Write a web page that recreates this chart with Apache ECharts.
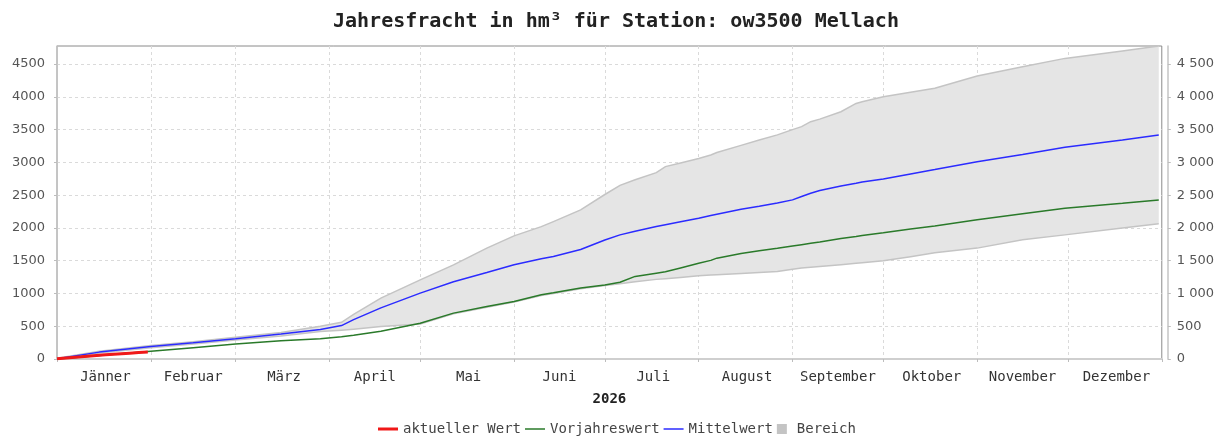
<!DOCTYPE html>
<html>
<head>
<meta charset="utf-8">
<script src="https://cdn.jsdelivr.net/npm/echarts@6/dist/echarts.min.js"></script>
<style>
  html, body { margin: 0; padding: 0; background: #fff; }
  #chart { width: 1217px; height: 439px; }
</style>
</head>
<body>
<div id="chart"></div>
<script>
// Monatsachse 2026
const monthLabels = ['Jänner', 'Februar', 'März', 'April', 'Mai', 'Juni', 'Juli',
  'August', 'September', 'Oktober', 'November', 'Dezember'];
const monthLengths = [31, 28, 31, 30, 31, 30, 31, 31, 30, 31, 30, 31];

// Werteachse (hm³)
const yTickValues = [0, 500, 1000, 1500, 2000, 2500, 3000, 3500, 4000, 4500];
const yMax = 4776;

// Tag im Jahr (0 = 1. Jänner) für die Stützstellen der Kurven
const days = [0, 14, 31, 45, 59, 74, 87, 94, 98, 107, 120, 131, 142, 151, 160, 164, 173,
  181, 186, 191, 198, 201, 206, 212, 216, 218, 226, 232, 238, 243, 246, 249, 252, 259,
  264, 266, 273, 282, 290, 304, 319, 333, 352, 364];

const mittelwert = [5, 105, 190, 248, 310, 380, 450, 510, 600, 780, 1005, 1180, 1320, 1437,
  1530, 1564, 1670, 1815, 1894, 1950, 2021, 2050, 2095, 2149, 2190, 2210, 2286, 2330,
  2380, 2428, 2480, 2530, 2570, 2640, 2682, 2700, 2745, 2824, 2890, 3011, 3120, 3231,
  3340, 3418];

const vorjahreswert = [0, 52, 118, 172, 228, 280, 310, 340, 362, 425, 545, 700, 800, 878,
  980, 1010, 1082, 1130, 1170, 1260, 1310, 1330, 1390, 1460, 1505, 1539, 1610, 1650,
  1690, 1725, 1745, 1765, 1785, 1840, 1870, 1885, 1925, 1982, 2030, 2123, 2215, 2301,
  2375, 2428];

const bereichMin = [0, 92, 172, 228, 290, 352, 420, 440, 455, 495, 535, 690, 790, 868,
  970, 1000, 1072, 1122, 1150, 1180, 1215, 1225, 1245, 1269, 1280, 1285, 1305, 1320,
  1335, 1370, 1388, 1400, 1410, 1437, 1460, 1470, 1500, 1560, 1620, 1692, 1818, 1894,
  2000, 2062];

const bereichMax = [10, 118, 205, 265, 332, 405, 500, 560, 680, 930, 1208, 1437, 1692,
  1879, 2020, 2097, 2275, 2510, 2650, 2735, 2844, 2936, 2990, 3060, 3114, 3150, 3260,
  3342, 3420, 3500, 3545, 3621, 3660, 3773, 3900, 3926, 4000, 4070, 4130, 4317, 4460,
  4587, 4700, 4775];

// Aktuelles Jahr (bisher nur Jänner)
const aktuellDays = [0, 4, 8, 12, 16, 20, 24, 27, 30];
const aktuellerWert = [2, 18, 33, 49, 64, 77, 89, 98, 106];

// ---- Achsen-Hilfsgrößen ----
const monthStarts = [0];
monthLengths.forEach((len, i) => monthStarts.push(monthStarts[i] + len));
const totalDays = monthStarts[monthStarts.length - 1];
const dayCategories = Array.from({ length: totalDays + 1 }, (_, i) => String(i));
const startSet = new Set(monthStarts);
const midLabel = {};
monthLabels.forEach((m, i) => {
  midLabel[Math.round((monthStarts[i] + monthStarts[i + 1]) / 2)] = m;
});

const pairs = (xs, ys) => xs.map((x, i) => [x, ys[i]]);

const fmtSpace = v => v >= 1000
  ? Math.floor(v / 1000) + ' ' + String(v % 1000).padStart(3, '0')
  : String(v);

const mono = 'DejaVu Sans Mono';
const sans = 'DejaVu Sans';
const gridLine = { show: true, lineStyle: { color: '#dadada', type: [3, 3], width: 1 } };
const bandFill = '#e5e5e5';
const bandEdge = '#c4c4c4';

// Bereich (Min..Max) als geschlossene Fläche mit Randlinien
function renderBand(params, api) {
  const upper = days.map((d, i) => api.coord([d, bereichMax[i]]));
  const lower = days.map((d, i) => api.coord([d, bereichMin[i]]));
  const poly = upper.concat(lower.slice().reverse());
  return {
    type: 'group',
    children: [
      { type: 'polygon', shape: { points: poly }, style: { fill: bandFill, stroke: null } },
      { type: 'polyline', shape: { points: upper }, style: { stroke: bandEdge, lineWidth: 1.5, fill: null } },
      { type: 'polyline', shape: { points: lower }, style: { stroke: bandEdge, lineWidth: 1.5, fill: null } }
    ]
  };
}

const lineIcon = h => 'path://M0,0 L20,0 L20,' + h + ' L0,' + h + ' Z';

const chart = echarts.init(document.getElementById('chart'), null, { renderer: 'canvas' });
chart.setOption({
  animation: false,
  backgroundColor: '#ffffff',
  title: {
    text: 'Jahresfracht in hm³ für Station: ow3500 Mellach',
    left: 328,
    top: 7,
    textStyle: { fontFamily: mono, fontWeight: 'bold', fontSize: 20, color: '#222' }
  },
  legend: {
    left: 378,
    top: 422,
    padding: 0,
    itemGap: 4,
    itemWidth: 20,
    itemHeight: 10,
    textStyle: { fontFamily: mono, fontSize: 14, color: '#444' },
    data: [
      { name: 'aktueller Wert', icon: lineIcon(3), itemStyle: { color: '#f01818' } },
      { name: 'Vorjahreswert', icon: lineIcon(1.5), itemStyle: { color: '#2a7a2a' } },
      { name: 'Mittelwert', icon: lineIcon(1.5), itemStyle: { color: '#2b2bff' } },
      { name: 'Bereich', icon: 'path://M0,0 L10,0 L10,10 L0,10 Z', itemStyle: { color: '#c4c4c4' } }
    ]
  },
  grid: {
    left: 57, right: 54, top: 46, bottom: 80,
    show: true, borderColor: '#8a8a8a', borderWidth: 1, backgroundColor: '#ffffff'
  },
  xAxis: [
    { type: 'value', min: 0, max: totalDays, show: false },
    {
      type: 'category',
      data: dayCategories,
      boundaryGap: false,
      position: 'bottom',
      offset: 3,
      name: '2026',
      nameLocation: 'middle',
      nameGap: 30,
      nameTextStyle: { fontFamily: mono, fontWeight: 'bold', fontSize: 14, color: '#222' },
      axisLine: { show: true, lineStyle: { color: '#cfcfcf', width: 2 } },
      axisTick: {
        show: true, length: 3, lineStyle: { color: '#bdbdbd' },
        interval: idx => startSet.has(idx)
      },
      axisLabel: {
        interval: idx => midLabel[idx] !== undefined,
        formatter: (val, idx) => midLabel[idx] || '',
        margin: 8,
        fontFamily: mono, fontSize: 14, color: '#333'
      },
      splitLine: Object.assign({}, gridLine, {
        interval: idx => startSet.has(idx) && idx !== 0 && idx !== totalDays
      })
    }
  ],
  yAxis: [
    {
      type: 'value', min: 0, max: yMax, interval: 500, position: 'left', offset: 4,
      axisLine: { show: true, lineStyle: { color: '#c4c4c4', width: 1.5 } },
      axisTick: { show: true, length: 3, lineStyle: { color: '#bdbdbd' }, customValues: yTickValues },
      axisLabel: {
        customValues: yTickValues, margin: 8, formatter: v => String(v),
        fontFamily: sans, fontSize: 13, color: '#555'
      },
      splitLine: gridLine
    },
    {
      type: 'value', min: 0, max: yMax, interval: 500, position: 'right', offset: 6,
      axisLine: { show: true, lineStyle: { color: '#c4c4c4', width: 1.5 } },
      axisTick: { show: true, length: 3, lineStyle: { color: '#bdbdbd' }, customValues: yTickValues },
      axisLabel: {
        customValues: yTickValues, margin: 9, formatter: fmtSpace,
        fontFamily: sans, fontSize: 13, color: '#555'
      },
      splitLine: { show: false }
    }
  ],
  series: [
    {
      name: 'Bereich',
      type: 'custom',
      xAxisIndex: 0, yAxisIndex: 0,
      renderItem: renderBand,
      itemStyle: { color: '#c4c4c4' },
      data: [0],
      z: 1
    },
    {
      name: 'Vorjahreswert',
      type: 'line',
      xAxisIndex: 0, yAxisIndex: 0,
      symbol: 'none',
      lineStyle: { color: '#2a7a2a', width: 1.5 },
      itemStyle: { color: '#2a7a2a' },
      data: pairs(days, vorjahreswert),
      z: 3
    },
    {
      name: 'Mittelwert',
      type: 'line',
      xAxisIndex: 0, yAxisIndex: 0,
      symbol: 'none',
      lineStyle: { color: '#2b2bff', width: 1.5 },
      itemStyle: { color: '#2b2bff' },
      data: pairs(days, mittelwert),
      z: 4
    },
    {
      name: 'aktueller Wert',
      type: 'line',
      xAxisIndex: 0, yAxisIndex: 0,
      symbol: 'none',
      lineStyle: { color: '#f01818', width: 3 },
      itemStyle: { color: '#f01818' },
      data: pairs(aktuellDays, aktuellerWert),
      z: 5
    }
  ]
});
</script>
</body>
</html>
